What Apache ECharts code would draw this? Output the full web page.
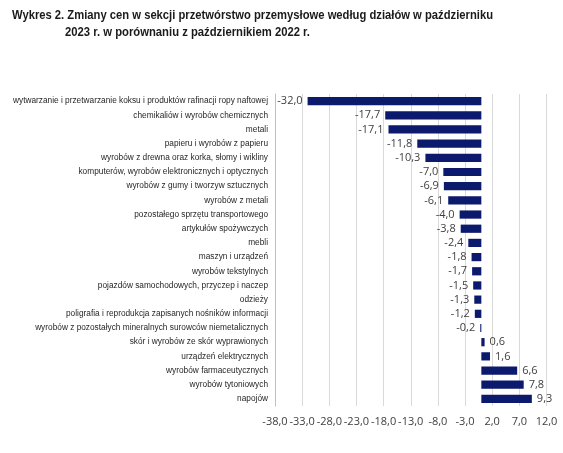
<!DOCTYPE html>
<html><head><meta charset="utf-8">
<script src="https://cdn.jsdelivr.net/npm/echarts@6/dist/echarts.min.js"></script>
<style>html,body{margin:0;padding:0;background:#fff}#c{width:563px;height:453px}</style>
</head><body><div id="c"></div>
<script>
const categories = [
  "wytwarzanie i przetwarzanie koksu i produktów rafinacji ropy naftowej",
  "chemikaliów i wyrobów chemicznych",
  "metali",
  "papieru i wyrobów z papieru",
  "wyrobów z drewna oraz korka, słomy i wikliny",
  "komputerów, wyrobów elektronicznych i optycznych",
  "wyrobów z gumy i tworzyw sztucznych",
  "wyrobów z metali",
  "pozostałego sprzętu transportowego",
  "artykułów spożywczych",
  "mebli",
  "maszyn i urządzeń",
  "wyrobów tekstylnych",
  "pojazdów samochodowych, przyczep i naczep",
  "odzieży",
  "poligrafia i reprodukcja zapisanych nośników informacji",
  "wyrobów z pozostałych mineralnych surowców niemetalicznych",
  "skór i wyrobów ze skór wyprawionych",
  "urządzeń elektrycznych",
  "wyrobów farmaceutycznych",
  "wyrobów tytoniowych",
  "napojów"
];
const values = [-32.0, -17.7, -17.1, -11.8, -10.3, -7.0, -6.9, -6.1, -4.0, -3.8, -2.4, -1.8, -1.7, -1.5, -1.3, -1.2, -0.2, 0.6, 1.6, 6.6, 7.8, 9.3];
const axisMin = -38, axisMax = 12, axisStep = 5;
const titleLine1 = "Wykres 2. Zmiany cen w sekcji przetwórstwo przemysłowe według działów w październiku";
const titleLine2 = "2023 r. w porównaniu z październikiem 2022 r.";

const fmt = v => v.toFixed(1).replace('.', ',');
const titleFont = 'bold 13px "Liberation Sans", Arial, sans-serif';
const cv = document.createElement('canvas').getContext('2d');
cv.font = titleFont;
const sx1 = 481 / cv.measureText(titleLine1).width;
const sx2 = 245 / cv.measureText(titleLine2).width;

const chart = echarts.init(document.getElementById('c'), null, {renderer: 'canvas'});
chart.setOption({
  animation: false,
  graphic: [
    {type: 'text', x: 12, y: 9, scaleX: sx1, style: {text: titleLine1, font: titleFont, fill: '#1a1a1a'}},
    {type: 'text', x: 65, y: 26, scaleX: sx2, style: {text: titleLine2, font: titleFont, fill: '#1a1a1a'}}
  ],
  grid: {left: 275, right: 16.5, top: 94, bottom: 47, containLabel: false, outerBoundsMode: 'none'},
  xAxis: {
    type: 'value', min: axisMin, max: axisMax, interval: axisStep,
    axisLine: {show: false}, axisTick: {show: false},
    splitLine: {show: true, lineStyle: {color: '#d9d9d9', width: 1}},
    axisLabel: {formatter: fmt, color: '#404040', fontSize: 11, fontFamily: 'Open Sans, sans-serif', margin: 10, hideOverlap: false}
  },
  yAxis: {
    type: 'category', data: categories, inverse: true,
    axisLine: {show: true, onZero: false, lineStyle: {color: '#bfbfbf'}},
    axisTick: {show: false},
    axisLabel: {color: '#262626', fontSize: 8.3, fontFamily: 'Liberation Sans, Arial, sans-serif', margin: 7, interval: 0}
  },
  series: [{
    type: 'bar', data: values.map(v => ({value: v, label: {position: v < 0 ? 'left' : 'right'}})),
    barCategoryGap: '42%',
    itemStyle: {color: '#0c1a6e'},
    label: {show: true, formatter: p => fmt(p.value), color: '#404040', fontSize: 11, fontFamily: 'Open Sans, sans-serif', distance: 5}
  }]
});
</script></body></html>
